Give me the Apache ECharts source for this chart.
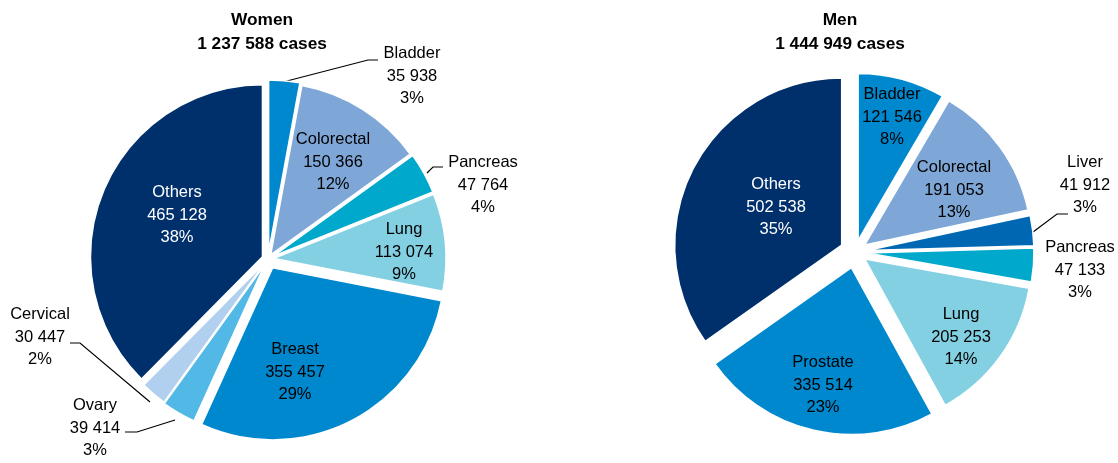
<!DOCTYPE html>
<html><head><meta charset="utf-8">
<script src="https://cdn.jsdelivr.net/npm/echarts@6/dist/echarts.min.js"></script>
<style>html,body{margin:0;padding:0;background:#fff}#c{width:1118px;height:463px}</style>
</head><body><div id="c"></div>
<script>
// ---- data ----
const womenCategories = ['Bladder','Colorectal','Pancreas','Lung','Breast','Ovary','Cervical','Others'];
const womenValues = [35938,150366,47764,113074,355457,39414,30447,465128];
const menCategories = ['Bladder','Colorectal','Liver','Pancreas','Lung','Prostate','Others'];
const menValues = [121546,191053,41912,47133,205253,335514,502538];
const womenTitle = 'Women';
const menTitle = 'Men';

// ---- styles ----
const FONT = "'Liberation Sans',Arial,sans-serif";
const womenColors = ['#0088ce','#7ea7d8','#00a8cb','#84d0e3','#0088ce','#52b8e6','#b1cfee','#00306b'];
const menColors = ['#0088ce','#7ea7d8','#0068b3','#00a8cb','#84d0e3','#0088ce','#00306b'];
const womenExplode = [7,5,6,6,10,6,5,6];
const menExplode = [12,12,12,12,12,16,15];
const womenLabelPos = [[412,76],[333,162],[483,185],[404,252],[295,372],[95,428],[40,337],[177,215]];
const menLabelPos = [[892,117],[954,190],[1085,185],[1080,270],[961,337],[823,385],[776,207]];
const womenLeaders = {0:[[283,82],[368,60],[378,60]],2:[[427,173],[433,167],[443,167]],5:[[175,420],[137,432],[125,432]],6:[[150,402],[80,343],[70,343]]};
const menLeaders = {2:[[1033,232],[1057,214],[1068,214]]};
const womenLabelColors = {7:'#fff'};
const menLabelColors = {6:'#fff'};
const womenPie = {center:[268,259], radius:172, titleX:262};
const menPie = {center:[855,252], radius:167, titleX:840};

function fmt(v){ return String(v).replace(/\B(?=(\d{3})+(?!\d))/g,' '); }
function sum(a){ return a.reduce((s,x)=>s+x,0); }

function buildSeries(cats, vals, colors, explode, labelPos, leaders, labelColors, pie){
  const total = sum(vals);
  const out = [];
  let cum = 0;
  cats.forEach((c, k) => {
    const mid = (90 - 360 * (cum + vals[k] / 2) / total) * Math.PI / 180;
    cum += vals[k];
    const center = [pie.center[0] + explode[k] * Math.cos(mid), pie.center[1] - explode[k] * Math.sin(mid)];
    out.push({
      type:'pie', center:center, radius:pie.radius, startAngle:90, clockwise:true,
      animation:false, silent:true, avoidLabelOverlap:false, minAngle:0,
      emphasis:{disabled:true},
      data: cats.map((name,i)=>{
        const vis = i===k;
        return {
          name, value: vals[i],
          itemStyle: vis ? {color:colors[i], borderColor:'#fff', borderWidth:1.5} : {color:'rgba(0,0,0,0)', borderWidth:0},
          label: {show: vis},
          labelLine: {show: vis && leaders[i] != null, lineStyle:{color:'#000', width:1.2}, smooth:false}
        };
      }),
      label:{
        position: leaders[k]!=null ? 'outside' : 'inside',
        formatter: p => p.name + '\n' + fmt(p.value) + '\n' + Math.round(p.value/total*100) + '%',
        fontFamily: FONT, fontSize: 16.5, lineHeight: 22.5,
        color: labelColors[k] || '#000', align:'center', verticalAlign:'middle'
      },
      labelLine:{length:10, length2:10},
      labelLayout: (params) => {
        if (params.dataIndex !== k) return {};
        const o = {x: labelPos[k][0], y: labelPos[k][1], align:'center', verticalAlign:'middle'};
        if (leaders[k]) o.labelLinePoints = leaders[k];
        return o;
      }
    });
  });
  return out;
}

const chart = echarts.init(document.getElementById('c'), null, {renderer:'canvas'});
const series = [].concat(
  buildSeries(womenCategories, womenValues, womenColors, womenExplode, womenLabelPos, womenLeaders, womenLabelColors, womenPie),
  buildSeries(menCategories, menValues, menColors, menExplode, menLabelPos, menLeaders, menLabelColors, menPie)
);
chart.setOption({
  animation:false,
  backgroundColor:'#fff',
  graphic:[
    {type:'text', x:womenPie.titleX, y:8, style:{text: womenTitle + '\n' + fmt(sum(womenValues)) + ' cases', fontFamily:FONT, fontWeight:'bold', fontSize:17.3, lineHeight:24, align:'center', fill:'#000'}},
    {type:'text', x:menPie.titleX, y:8, style:{text: menTitle + '\n' + fmt(sum(menValues)) + ' cases', fontFamily:FONT, fontWeight:'bold', fontSize:17.3, lineHeight:24, align:'center', fill:'#000'}}
  ],
  series
});
</script></body></html>
